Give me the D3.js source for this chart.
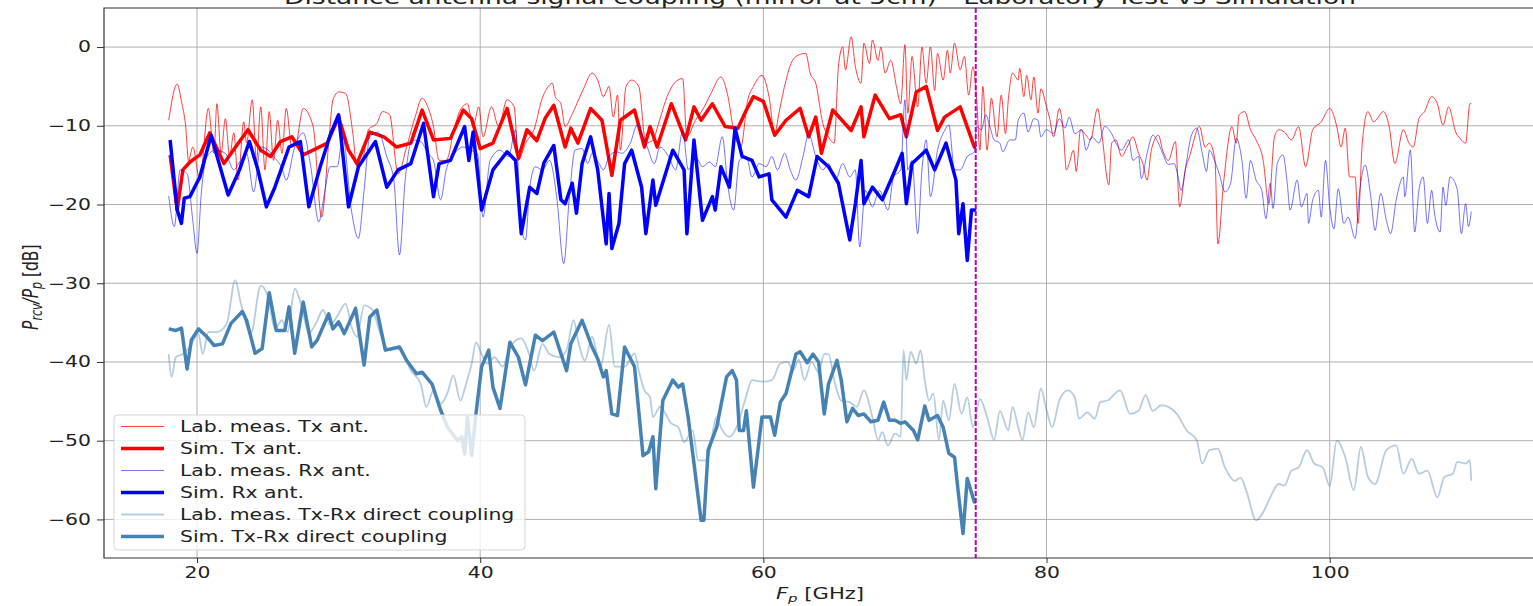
<!DOCTYPE html>
<html>
<head>
<meta charset="utf-8">
<script src="https://cdn.jsdelivr.net/npm/d3@7"></script>
<style>
  html, body { margin: 0; padding: 0; background: #fff; overflow: hidden; }
  svg { display: block; font-family: 'DejaVu Sans', sans-serif; }
</style>
</head>
<body>
<div id="chart"></div>
<script>
// ---- data (frequency in GHz, level in dB) ----
var titleText = 'Distance antenna signal coupling (mirror at 5cm) - Laboratory Test vs Simulation';
var xTicks = [20, 40, 60, 80, 100];
var yTicks = [0, -10, -20, -30, -40, -50, -60];
var markerFreq = 75;

var labTx = [[18.0,-9.3],[18.6,-4.7],[18.9,-6.9],[19.2,-10.1],[19.4,-14.4],[19.7,-12.7],[20.2,-16.9],[20.8,-7.8],[21.2,-13.5],[21.4,-7.2],[21.7,-13.5],[22.0,-9.1],[22.3,-13.9],[22.6,-10.9],[22.9,-16.9],[23.3,-9.5],[23.5,-12.2],[23.9,-6.7],[24.2,-14.4],[24.5,-7.6],[24.8,-15.6],[25.1,-8.2],[25.4,-14.4],[25.7,-9.3],[26.0,-13.5],[26.3,-7.8],[26.7,-12.7],[27.0,-12.2],[27.5,-7.8],[28.2,-10.1],[28.8,-21.6],[29.3,-12.2],[29.6,-6.7],[30.0,-5.7],[30.5,-5.9],[31.0,-10.9],[31.3,-15.2],[31.8,-13.5],[32.1,-10.5],[32.7,-9.7],[33.1,-8.2],[33.6,-8.6],[34.2,-16.1],[34.8,-12.7],[35.4,-8.9],[35.9,-6.5],[36.3,-7.6],[36.7,-10.1],[37.1,-14.4],[37.6,-14.4],[38.2,-10.1],[38.6,-8.0],[39.1,-7.2],[39.5,-10.1],[39.9,-7.6],[40.2,-11.4],[40.8,-7.6],[41.3,-10.1],[41.9,-6.7],[42.4,-7.6],[42.7,-14.4],[43.2,-12.2],[43.8,-10.5],[44.4,-6.4],[44.7,-5.3],[45.1,-4.6],[45.3,-6.3],[45.7,-7.2],[46.0,-10.1],[46.4,-8.9],[46.9,-6.9],[47.3,-5.3],[47.9,-3.3],[48.3,-4.2],[48.7,-6.3],[49.1,-5.0],[49.4,-8.9],[49.7,-6.1],[49.9,-13.1],[50.3,-5.0],[50.7,-4.2],[51.2,-5.0],[51.7,-12.2],[52.2,-11.8],[52.6,-9.7],[53.2,-6.3],[53.7,-4.6],[54.3,-4.0],[54.6,-11.4],[55.2,-9.3],[55.7,-8.0],[56.3,-5.9],[57.0,-3.8],[57.5,-6.3],[57.9,-10.6],[58.4,-12.7],[58.9,-6.7],[59.3,-5.0],[59.9,-3.6],[60.4,-6.3],[60.8,-11.0],[61.1,-8.4],[61.6,-4.2],[62.0,-1.9],[62.5,-1.0],[63.0,-0.8],[63.3,-3.3],[63.7,-4.6],[64.2,-9.7],[64.6,-11.4],[65.0,-12.2],[65.3,-2.5],[65.6,0.0],[65.8,-2.9],[66.2,1.3],[66.5,-2.5],[66.9,-4.6],[67.1,0.5],[67.5,-2.1],[67.7,0.9],[68.1,-1.7],[68.3,0.0],[68.6,-3.3],[69.0,-1.7],[69.4,-5.0],[69.7,-7.2],[70.0,0.3],[70.2,-8.4],[70.5,-1.2],[70.9,-7.6],[71.2,0.0],[71.5,-4.6],[71.8,0.0],[72.1,-5.5],[72.3,-0.8],[72.7,-4.2],[73.0,-0.4],[73.2,-3.3],[73.5,0.5],[73.9,-2.9],[74.2,-1.2],[74.5,-6.1],[74.8,-2.5],[75.05,-6.3],[75.3,-13.1],[75.5,-5.0],[75.8,-13.1],[76.1,-6.5],[76.5,-11.4],[76.8,-6.1],[77.1,-11.0],[77.3,-6.7],[77.6,-3.3],[78.0,-4.2],[78.1,-2.7],[78.4,-6.3],[78.6,-3.6],[78.9,-6.7],[79.1,-3.8],[79.4,-8.4],[79.6,-5.3],[80.0,-7.6],[80.2,-8.9],[80.5,-11.4],[80.9,-7.8],[81.2,-11.0],[81.4,-15.6],[81.6,-14.8],[81.9,-13.1],[82.1,-15.8],[82.4,-10.5],[82.7,-11.0],[83.1,-11.8],[83.6,-7.8],[83.9,-11.0],[84.4,-17.5],[84.6,-12.2],[84.9,-11.8],[85.3,-13.9],[85.7,-12.7],[86.1,-11.4],[86.5,-13.5],[86.8,-14.8],[87.1,-16.9],[87.4,-13.1],[87.9,-11.2],[88.2,-13.1],[88.6,-14.4],[89.1,-12.0],[89.4,-20.3],[89.8,-15.6],[90.1,-13.9],[90.8,-10.1],[91.2,-12.7],[91.5,-12.2],[91.9,-14.4],[92.1,-25.0],[92.5,-17.3],[93.1,-10.1],[93.4,-12.2],[93.6,-8.6],[94.0,-8.2],[94.4,-10.5],[94.8,-11.8],[95.3,-14.4],[95.7,-19.9],[96.1,-11.4],[96.4,-10.5],[96.8,-10.8],[97.3,-11.8],[97.8,-10.1],[98.3,-15.2],[98.8,-10.5],[99.4,-9.5],[100.0,-7.8],[100.5,-10.1],[100.8,-12.7],[101.1,-10.3],[101.4,-16.5],[101.8,-16.5],[102.0,-22.4],[102.3,-12.2],[102.7,-8.2],[103.1,-9.5],[103.8,-8.2],[104.2,-10.1],[104.6,-14.8],[105.2,-10.5],[105.6,-12.2],[105.9,-12.7],[106.3,-9.1],[106.7,-8.2],[107.2,-6.3],[107.6,-7.2],[108.0,-9.9],[108.4,-7.6],[108.9,-10.8],[109.2,-11.6],[109.6,-12.2],[109.9,-7.2],[110.0,-7.2]];

var simTx = [[18.1,-13.7],[18.6,-20.7],[19.0,-15.6],[19.5,-14.6],[20.2,-13.7],[20.9,-10.9],[21.9,-14.8],[22.8,-12.5],[23.6,-10.5],[24.5,-13.1],[25.2,-13.9],[25.9,-12.0],[26.7,-11.4],[27.5,-13.7],[28.2,-13.1],[29.2,-12.2],[30.0,-8.9],[30.7,-13.1],[31.3,-14.8],[32.2,-10.8],[33.2,-11.4],[34.1,-12.7],[35.1,-12.2],[35.9,-8.0],[36.7,-11.8],[37.9,-11.6],[38.8,-8.0],[39.4,-9.1],[40.0,-12.9],[40.9,-12.2],[41.9,-7.8],[42.7,-14.1],[43.3,-10.5],[44.0,-11.9],[44.6,-9.0],[45.2,-7.4],[46.0,-12.7],[46.4,-10.3],[46.9,-12.2],[47.8,-7.8],[48.6,-9.3],[49.3,-16.3],[49.9,-9.3],[50.9,-8.0],[51.6,-12.7],[52.0,-10.1],[52.5,-12.7],[53.5,-7.2],[54.5,-11.8],[55.1,-7.6],[55.6,-9.3],[56.4,-7.2],[57.3,-10.1],[58.2,-10.3],[58.8,-8.0],[59.3,-6.3],[60.0,-6.9],[60.8,-11.2],[61.6,-9.3],[62.6,-7.8],[63.2,-11.4],[63.7,-8.9],[64.1,-13.5],[64.9,-8.0],[66.2,-10.6],[66.9,-7.6],[67.1,-11.4],[67.9,-6.1],[68.9,-9.1],[69.7,-8.6],[70.1,-11.4],[70.8,-5.7],[71.5,-5.0],[72.3,-10.6],[72.8,-8.9],[73.9,-7.6],[74.9,-12.7],[75.0,-12.4]];

var labRx = [[18.0,-18.9],[18.4,-22.8],[18.8,-15.6],[19.3,-16.1],[19.7,-22.0],[20.0,-26.2],[20.3,-18.6],[20.7,-13.9],[21.3,-13.1],[22.0,-13.5],[22.6,-15.6],[23.0,-14.6],[23.5,-13.5],[24.0,-18.4],[24.5,-12.7],[24.9,-12.9],[25.4,-13.9],[26.0,-15.4],[26.3,-16.9],[26.9,-12.7],[27.5,-10.9],[28.0,-14.8],[28.6,-22.2],[29.0,-18.6],[29.4,-15.2],[29.9,-15.2],[30.3,-11.4],[30.9,-20.7],[31.4,-24.3],[31.8,-18.2],[32.2,-11.4],[32.8,-10.8],[33.4,-13.9],[33.9,-16.9],[34.3,-26.4],[34.7,-16.9],[35.2,-11.8],[35.8,-12.0],[36.3,-13.5],[36.7,-14.4],[37.2,-19.4],[37.6,-15.6],[38.2,-13.5],[38.8,-12.7],[39.3,-13.1],[39.8,-13.5],[40.2,-21.6],[40.7,-14.4],[41.4,-13.1],[42.0,-13.9],[42.5,-10.5],[42.9,-22.8],[43.2,-24.5],[43.5,-17.8],[43.9,-15.2],[44.4,-15.6],[44.9,-14.4],[45.4,-19.0],[45.9,-27.5],[46.3,-19.0],[46.7,-13.1],[47.2,-12.9],[47.6,-14.8],[47.9,-13.5],[48.4,-14.8],[48.7,-15.6],[49.1,-13.9],[49.6,-13.3],[50.0,-13.5],[50.6,-12.2],[51.1,-9.9],[51.4,-11.0],[51.8,-12.7],[52.3,-14.8],[52.7,-12.7],[53.3,-13.9],[53.8,-15.6],[54.3,-10.6],[54.7,-15.6],[55.2,-13.9],[55.7,-15.2],[56.2,-14.6],[56.6,-15.2],[57.1,-11.4],[57.5,-17.8],[57.9,-20.7],[58.3,-14.4],[58.8,-13.9],[59.2,-16.5],[59.7,-14.8],[60.2,-15.2],[60.6,-13.9],[61.0,-15.6],[61.5,-13.5],[61.9,-15.6],[62.3,-16.9],[62.8,-13.9],[63.2,-11.0],[63.7,-13.9],[64.2,-15.6],[64.6,-14.8],[65.1,-16.9],[65.6,-14.8],[66.1,-16.5],[66.5,-15.6],[66.8,-25.4],[67.2,-18.2],[67.7,-20.3],[68.2,-18.2],[68.8,-20.7],[69.2,-16.5],[69.7,-15.6],[70.0,-6.7],[70.2,-15.6],[70.5,-14.4],[70.9,-23.7],[71.2,-15.6],[71.5,-11.8],[71.8,-19.0],[72.3,-13.1],[72.8,-10.6],[73.1,-9.9],[73.5,-15.6],[73.9,-15.6],[74.4,-13.9],[74.9,-13.3],[75.05,-10.1],[75.4,-10.5],[75.7,-8.6],[76.0,-10.1],[76.3,-11.8],[76.7,-12.2],[76.9,-13.3],[77.4,-11.8],[77.8,-11.8],[78.0,-9.3],[78.4,-8.4],[78.7,-10.8],[79.1,-9.1],[79.4,-9.3],[79.6,-11.4],[80.0,-10.5],[80.5,-11.0],[80.9,-9.1],[81.3,-10.3],[81.6,-8.9],[82.0,-11.0],[82.5,-10.5],[82.8,-13.1],[83.2,-11.4],[83.7,-12.2],[84.1,-10.1],[84.6,-11.0],[84.9,-12.2],[85.3,-13.1],[85.8,-11.8],[86.1,-14.4],[86.5,-13.9],[86.7,-16.7],[87.1,-13.5],[87.5,-11.2],[87.9,-12.2],[88.2,-13.5],[88.6,-14.9],[89.0,-14.8],[89.3,-16.5],[89.5,-18.2],[89.9,-14.4],[90.2,-11.4],[90.6,-10.3],[91.0,-13.5],[91.3,-15.8],[91.5,-13.1],[91.9,-14.6],[92.2,-16.1],[92.6,-18.4],[93.0,-17.3],[93.4,-11.6],[93.8,-14.4],[94.1,-19.2],[94.4,-14.4],[94.8,-16.9],[95.2,-18.2],[95.5,-21.8],[95.8,-17.3],[96.0,-20.5],[96.3,-14.8],[96.7,-13.7],[97.0,-17.3],[97.2,-20.7],[97.7,-16.9],[98.0,-20.3],[98.4,-18.6],[98.5,-22.4],[98.8,-19.4],[99.2,-18.2],[99.4,-21.6],[99.7,-14.4],[100.0,-20.3],[100.3,-23.1],[100.6,-18.0],[101.0,-22.4],[101.3,-21.6],[101.8,-24.3],[102.1,-18.6],[102.5,-15.0],[102.9,-19.0],[103.2,-23.3],[103.6,-18.6],[104.0,-22.0],[104.3,-23.7],[104.7,-19.4],[105.2,-16.5],[105.3,-19.0],[105.7,-13.1],[106.0,-23.5],[106.3,-18.2],[106.6,-16.5],[106.9,-22.4],[107.2,-18.2],[107.4,-21.1],[107.8,-23.5],[108.0,-17.8],[108.2,-20.1],[108.5,-16.5],[109.0,-18.0],[109.3,-23.7],[109.6,-19.9],[109.8,-22.8],[110.0,-20.9]];

var simRx = [[18.1,-11.8],[18.6,-20.7],[18.9,-22.4],[19.1,-19.2],[19.5,-19.0],[20.2,-16.5],[21.0,-11.2],[21.5,-14.4],[22.2,-18.8],[23.0,-15.6],[23.7,-12.0],[24.3,-15.6],[24.9,-20.3],[25.5,-17.8],[26.5,-12.7],[27.3,-12.0],[27.9,-20.3],[28.7,-15.2],[29.4,-11.2],[30.0,-8.6],[30.7,-20.3],[31.4,-15.2],[32.6,-12.0],[33.4,-17.8],[34.2,-15.6],[35.1,-14.8],[36.0,-9.7],[36.7,-19.0],[37.1,-14.8],[37.9,-14.4],[38.9,-10.1],[39.2,-14.4],[39.5,-10.8],[40.1,-20.7],[40.9,-15.6],[41.9,-13.3],[42.5,-14.4],[42.9,-23.7],[43.5,-17.8],[44.0,-18.6],[44.5,-14.7],[45.2,-12.5],[45.7,-19.4],[46.0,-19.9],[46.5,-17.3],[46.8,-21.1],[47.2,-14.8],[47.8,-11.4],[48.3,-15.6],[48.9,-25.0],[49.1,-18.6],[49.3,-25.6],[49.8,-22.4],[50.2,-14.8],[50.7,-13.1],[51.4,-17.8],[51.7,-23.7],[52.2,-16.9],[52.4,-20.1],[53.6,-13.1],[54.4,-15.6],[54.6,-23.7],[55.1,-11.8],[55.7,-22.0],[56.4,-19.0],[56.6,-20.7],[57.0,-15.2],[57.6,-17.8],[58.0,-10.3],[58.5,-13.9],[59.2,-14.4],[59.7,-16.5],[60.4,-16.1],[60.6,-19.4],[61.6,-21.6],[62.4,-18.2],[63.2,-19.0],[63.8,-13.9],[64.6,-15.2],[65.3,-17.3],[66.1,-24.5],[66.5,-19.9],[66.9,-14.4],[67.1,-19.9],[67.7,-17.8],[68.4,-19.4],[69.1,-16.5],[69.8,-13.5],[70.1,-19.9],[70.5,-14.8],[71.5,-13.1],[72.1,-15.6],[72.9,-12.2],[73.6,-16.9],[73.8,-23.7],[74.1,-19.9],[74.4,-27.1],[74.7,-20.7],[74.9,-20.7],[75.0,-20.8]];

var labDirect = [[18.0,-39.0],[18.2,-41.9],[18.5,-39.4],[19.0,-39.0],[19.5,-38.1],[20.1,-36.4],[20.4,-39.0],[20.8,-36.2],[21.4,-36.2],[22.1,-35.1],[22.7,-29.6],[23.1,-32.6],[23.8,-36.4],[24.5,-30.3],[25.0,-31.7],[25.5,-35.8],[26.0,-34.7],[26.4,-36.2],[26.9,-30.7],[27.4,-33.0],[27.9,-36.4],[28.4,-35.1],[28.9,-33.4],[29.4,-35.3],[29.9,-34.2],[30.5,-32.6],[30.9,-35.5],[31.3,-36.8],[31.8,-32.8],[32.4,-33.4],[32.9,-36.2],[33.6,-38.5],[34.3,-38.1],[35.1,-41.1],[35.8,-42.8],[36.2,-45.7],[36.7,-43.6],[37.2,-45.3],[37.7,-43.9],[38.1,-41.7],[38.6,-44.9],[39.0,-42.8],[39.4,-40.2],[39.7,-37.5],[40.1,-39.0],[40.5,-40.2],[41.0,-39.4],[41.6,-40.6],[42.1,-38.1],[42.9,-37.0],[43.4,-38.7],[43.8,-41.1],[44.4,-37.7],[44.9,-39.0],[45.6,-39.4],[46.1,-38.5],[46.6,-34.7],[46.9,-37.2],[47.4,-39.8],[47.9,-36.8],[48.5,-40.6],[49.1,-35.3],[49.5,-40.6],[50.2,-40.6],[50.9,-38.9],[51.2,-41.1],[51.6,-43.6],[52.0,-44.5],[52.2,-47.0],[52.7,-45.7],[53.5,-47.8],[54.0,-48.3],[54.4,-50.2],[55.0,-48.7],[55.4,-52.5],[56.0,-52.5],[56.7,-47.0],[57.0,-48.3],[57.6,-49.5],[58.1,-48.3],[58.7,-44.9],[59.2,-42.3],[59.9,-42.5],[60.6,-42.3],[61.2,-40.2],[61.7,-40.0],[62.1,-41.1],[62.5,-39.7],[62.9,-42.3],[63.4,-40.0],[63.9,-41.3],[64.3,-39.0],[64.6,-39.0],[65.0,-42.3],[65.5,-44.9],[66.1,-45.1],[66.6,-45.7],[67.1,-43.6],[67.7,-47.0],[68.1,-49.9],[68.4,-48.9],[68.8,-50.6],[69.3,-49.1],[69.7,-49.5],[69.9,-38.5],[70.1,-42.3],[70.4,-38.7],[70.8,-40.2],[71.1,-38.5],[71.4,-42.3],[71.7,-44.9],[72.0,-44.0],[72.4,-49.9],[72.7,-44.9],[73.1,-47.4],[73.5,-42.8],[74.0,-46.6],[74.4,-44.5],[74.8,-48.3],[75.3,-44.7],[75.8,-47.0],[76.3,-49.9],[76.7,-46.2],[77.3,-48.7],[77.6,-45.7],[78.0,-48.3],[78.3,-49.9],[78.7,-46.4],[79.1,-48.3],[79.6,-43.4],[80.0,-46.1],[80.4,-48.3],[80.9,-44.9],[81.5,-43.6],[82.0,-44.5],[82.3,-47.2],[82.9,-46.4],[83.4,-47.2],[83.8,-45.1],[84.3,-44.9],[85.2,-43.6],[85.9,-46.6],[86.5,-46.2],[87.0,-44.2],[87.5,-46.2],[88.1,-45.5],[88.6,-45.7],[89.2,-46.6],[89.9,-48.7],[90.6,-49.9],[91.0,-52.9],[91.5,-51.2],[92.1,-51.0],[92.6,-53.4],[93.3,-55.1],[93.7,-54.7],[94.1,-56.3],[94.8,-60.1],[95.3,-59.1],[95.8,-57.2],[96.4,-55.5],[96.8,-55.7],[97.3,-53.8],[97.8,-53.4],[98.4,-51.2],[98.9,-52.9],[99.5,-53.4],[100.0,-55.7],[100.5,-50.0],[101.1,-52.1],[101.7,-56.3],[102.2,-50.8],[102.7,-54.6],[103.2,-55.5],[104.0,-51.2],[104.7,-50.6],[105.2,-54.2],[105.8,-52.3],[106.3,-54.2],[106.9,-53.8],[107.6,-57.2],[108.1,-54.6],[108.7,-54.2],[109.0,-52.7],[109.6,-52.9],[109.9,-52.5],[110.0,-55.1]];

var simDirect = [[18.0,-35.8],[18.5,-36.0],[18.9,-35.7],[19.3,-40.9],[19.6,-37.2],[20.1,-35.8],[20.7,-36.8],[21.2,-37.9],[21.8,-37.7],[22.4,-35.1],[23.2,-33.6],[23.5,-34.7],[24.1,-38.9],[24.6,-38.3],[25.1,-31.2],[25.6,-36.0],[26.2,-36.0],[26.5,-33.0],[26.9,-38.9],[27.5,-32.4],[28.1,-38.1],[28.5,-37.2],[29.0,-35.1],[29.3,-33.9],[29.6,-35.8],[30.0,-34.9],[30.4,-36.4],[31.2,-33.2],[31.8,-40.4],[32.2,-34.3],[32.7,-33.4],[33.3,-38.5],[34.3,-38.1],[34.8,-39.8],[35.5,-41.5],[35.9,-41.3],[36.6,-42.8],[37.2,-46.1],[37.7,-48.3],[38.4,-50.0],[38.7,-49.5],[38.9,-51.7],[39.1,-47.0],[39.4,-51.9],[39.7,-46.6],[40.1,-40.6],[40.6,-38.5],[40.9,-43.2],[41.4,-45.9],[42.1,-37.5],[42.7,-39.4],[43.2,-42.9],[43.9,-36.6],[44.4,-37.3],[45.2,-36.2],[46.1,-41.1],[46.4,-37.7],[47.2,-34.7],[47.9,-38.1],[48.3,-39.6],[48.7,-41.9],[48.9,-41.1],[49.3,-46.6],[49.7,-46.8],[50.2,-38.1],[50.9,-40.6],[51.5,-51.9],[51.9,-51.4],[52.2,-49.5],[52.4,-56.1],[52.9,-44.9],[53.6,-42.3],[54.0,-43.2],[54.3,-42.8],[54.7,-47.2],[55.1,-52.9],[55.6,-60.1],[55.8,-60.1],[56.1,-51.2],[56.7,-48.3],[57.4,-41.9],[57.8,-41.1],[58.1,-42.3],[58.3,-48.7],[58.6,-48.7],[58.8,-46.2],[59.3,-55.9],[59.9,-47.0],[60.5,-47.0],[60.8,-49.3],[61.2,-45.1],[61.6,-44.0],[62.3,-39.0],[62.6,-38.7],[63.1,-40.1],[63.5,-39.0],[63.9,-40.0],[64.3,-46.6],[64.6,-42.8],[65.2,-39.8],[65.5,-42.3],[65.9,-47.6],[66.3,-45.9],[66.7,-46.8],[67.1,-46.6],[67.6,-47.6],[68.1,-47.4],[68.5,-45.1],[68.9,-47.4],[69.3,-47.4],[69.7,-47.8],[70.0,-47.6],[70.6,-48.7],[70.9,-49.9],[71.4,-45.6],[71.7,-47.4],[72.3,-46.8],[72.7,-48.3],[73.1,-51.6],[73.5,-52.1],[73.8,-57.1],[74.1,-61.8],[74.4,-54.8],[74.9,-57.8],[75.0,-57.8]];

// ---- series styling, in the order they are drawn ----
// measured traces are dense in the original, so they get a smooth curve
var series = [
    {name: 'Lab. meas. Tx ant.', data: labTx, color: 'red', width: 1, opacity: 0.75, smooth: true},
    {name: 'Sim. Tx ant.', data: simTx, color: 'red', width: 3.5, opacity: 1, smooth: false},
    {name: 'Lab. meas. Rx ant.', data: labRx, color: 'blue', width: 1, opacity: 0.55, smooth: true},
    {name: 'Sim. Rx ant.', data: simRx, color: 'blue', width: 3.5, opacity: 1, smooth: false},
    {name: 'Lab. meas. Tx-Rx direct coupling', data: labDirect, color: 'steelblue', width: 1.8, opacity: 0.4, smooth: true},
    {name: 'Sim. Tx-Rx direct coupling', data: simDirect, color: 'steelblue', width: 3.5, opacity: 1, smooth: false}
];

var W = 1533, H = 606;
var stretch = 1.36; // the picture is wider than tall, text glyphs come out stretched
var plot = {left: 104, top: 8, right: 1536, bottom: 558};

var x = d3.scaleLinear().domain([13.43, 114.57]).range([plot.left, plot.right]);
var y = d3.scaleLinear().domain([4.96, -64.9]).range([plot.top, plot.bottom]);

var svg = d3.select('#chart').append('svg').attr('width', W).attr('height', H);

svg.append('clipPath').attr('id', 'clip')
    .append('rect')
    .attr('x', plot.left).attr('y', plot.top)
    .attr('width', plot.right - plot.left).attr('height', plot.bottom - plot.top);

// grid
var grid = svg.append('g').attr('class', 'grid');
grid.selectAll('.gx').data(xTicks).enter().append('line')
    .attr('x1', function(d) { return x(d); }).attr('x2', function(d) { return x(d); })
    .attr('y1', plot.top).attr('y2', plot.bottom)
    .attr('stroke', '#b0b0b0').attr('stroke-width', 1);
grid.selectAll('.gy').data(yTicks).enter().append('line')
    .attr('x1', plot.left).attr('x2', plot.right)
    .attr('y1', function(d) { return y(d); }).attr('y2', function(d) { return y(d); })
    .attr('stroke', '#b0b0b0').attr('stroke-width', 1);

// series
var line = d3.line()
    .x(function(d) { return x(d[0]); })
    .y(function(d) { return y(d[1]); });
var smoothLine = d3.line()
    .curve(d3.curveMonotoneX)
    .x(function(d) { return x(d[0]); })
    .y(function(d) { return y(d[1]); });

var lines = svg.append('g').attr('clip-path', 'url(#clip)');
series.forEach(function(s) {
    lines.append('path')
        .datum(s.data)
        .attr('d', s.smooth ? smoothLine : line)
        .attr('fill', 'none')
        .attr('stroke', s.color)
        .attr('stroke-opacity', s.opacity)
        .attr('stroke-width', s.width)
        .attr('stroke-linejoin', 'round');
});

// band edge marker at 75 GHz
lines.append('line')
    .attr('x1', x(markerFreq)).attr('x2', x(markerFreq))
    .attr('y1', plot.top).attr('y2', plot.bottom)
    .attr('stroke', '#bf00bf').attr('stroke-width', 2)
    .attr('stroke-dasharray', '5,2');

// axes
var xAxis = d3.axisBottom(x).tickValues(xTicks).tickSize(5).tickPadding(4);
var yAxis = d3.axisLeft(y).tickValues(yTicks).tickSize(7).tickPadding(6)
    .tickFormat(function(d) { return d < 0 ? '\u2212' + Math.abs(d) : d; });

function styleAxis(g) {
    g.select('.domain').remove();
    g.selectAll('.tick line').attr('stroke', '#333').attr('stroke-width', 1);
    g.selectAll('.tick text').attr('fill', '#222').attr('font-size', 15)
        .attr('font-family', 'DejaVu Sans');
}

var gx = svg.append('g').attr('transform', 'translate(0,' + plot.bottom + ')').call(xAxis).call(styleAxis);
gx.selectAll('.tick text').attr('transform', 'scale(' + stretch + ',1)');

var gy = svg.append('g').attr('transform', 'translate(' + plot.left + ',0)').call(yAxis).call(styleAxis);
gy.selectAll('.tick text')
    .attr('x', null)
    .attr('transform', 'translate(-13,0) scale(' + stretch + ',1)');

// frame (right edge falls just outside the picture)
svg.append('path')
    .attr('d', 'M' + plot.right + ',' + plot.top + 'H' + plot.left + 'V' + plot.bottom + 'H' + plot.right)
    .attr('fill', 'none').attr('stroke', '#333').attr('stroke-width', 1.2);

// title, cut at the top of the picture as in the original
svg.append('text')
    .attr('transform', 'translate(' + ((plot.left + plot.right) / 2) + ',4) scale(' + stretch + ',1)')
    .attr('text-anchor', 'middle')
    .attr('font-size', 19.5)
    .attr('fill', '#222')
    .text(titleText);

// x label: F_p [GHz]
var xl = svg.append('text')
    .attr('transform', 'translate(' + ((plot.left + plot.right) / 2) + ',599) scale(' + stretch + ',1)')
    .attr('text-anchor', 'middle')
    .attr('font-size', 15.5)
    .attr('fill', '#222');
xl.append('tspan').attr('font-style', 'italic').text('F');
xl.append('tspan').attr('font-style', 'italic').attr('font-size', 11).attr('dy', 3).text('p');
xl.append('tspan').attr('dy', -3).text(' [GHz]');

// y label: P_rcv/P_p [dB]
var yl = svg.append('text')
    .attr('transform', 'translate(38,' + y(-30.5) + ') scale(' + stretch + ',1) rotate(-90)')
    .attr('text-anchor', 'middle')
    .attr('font-size', 15.5)
    .attr('fill', '#222');
yl.append('tspan').attr('font-style', 'italic').text('P');
yl.append('tspan').attr('font-style', 'italic').attr('font-size', 11).attr('dy', 3).text('rcv');
yl.append('tspan').attr('dy', -3).attr('font-style', 'italic').text('/P');
yl.append('tspan').attr('font-style', 'italic').attr('font-size', 11).attr('dy', 3).text('p');
yl.append('tspan').attr('dy', -3).text(' [dB]');

// legend
var lg = svg.append('g').attr('class', 'legend');
lg.append('rect')
    .attr('x', 114).attr('y', 415).attr('width', 411).attr('height', 135)
    .attr('rx', 4)
    .attr('fill', 'white').attr('fill-opacity', 0.8)
    .attr('stroke', '#d5d5d5').attr('stroke-width', 1);

var rows = lg.selectAll('.row').data(series).enter().append('g')
    .attr('transform', function(d, i) { return 'translate(0,' + (426.5 + i * 22) + ')'; });
rows.append('line')
    .attr('x1', 121).attr('x2', 164).attr('y1', 0).attr('y2', 0)
    .attr('stroke', function(d) { return d.color; })
    .attr('stroke-opacity', function(d) { return d.opacity; })
    .attr('stroke-width', function(d) { return d.width; });
rows.append('text')
    .attr('transform', 'translate(180,5.5) scale(' + stretch + ',1)')
    .attr('font-size', 15)
    .attr('fill', '#222')
    .text(function(d) { return d.name; });
</script>
</body>
</html>
